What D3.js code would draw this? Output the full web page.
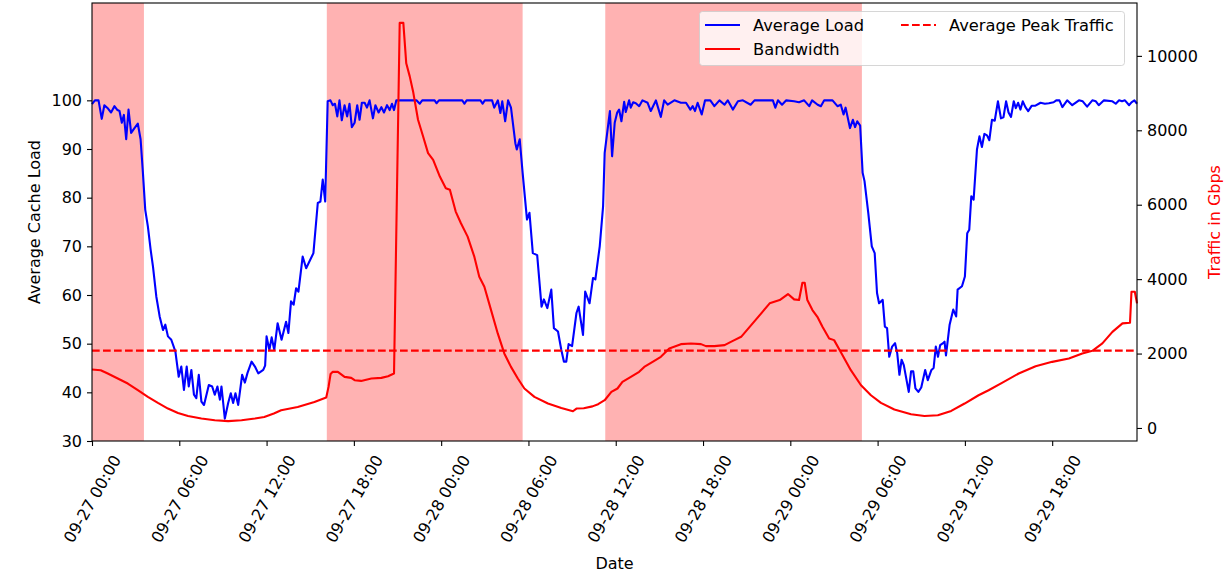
<!DOCTYPE html>
<html>
<head>
<meta charset="utf-8">
<script src="https://cdn.jsdelivr.net/npm/d3@7"></script>
<style>
  body { margin: 0; background: #fff; }
  svg { font-family: "DejaVu Sans", sans-serif; }
</style>
</head>
<body>
<div id="chart"></div>
<script>
// [hours since 09-27 00:00, value]
const loadData = [
  [0,99.2],[0.2,100],[0.45,100],[0.67,96.2],[0.85,99],[1.1,98.3],[1.31,97.5],[1.54,98.8],[1.75,98],[1.89,97.8],
  [2.05,95.4],[2.19,97],[2.35,92],[2.51,98.1],[2.69,93.3],[2.92,94.3],[3.15,95.2],[3.34,92],[3.5,85.1],[3.66,77.5],
  [3.84,74.1],[4.03,69.3],[4.19,65.9],[4.42,59.7],[4.65,55.6],[4.88,52.8],[5.04,53.9],[5.22,51.5],[5.45,50.8],[5.73,48.4],
  [5.96,43.2],[6.14,45.3],[6.32,40.5],[6.51,45.3],[6.65,41.2],[6.83,44.6],[7.01,39.5],[7.17,38.8],[7.34,43.6],[7.52,38.1],
  [7.7,37.4],[8.03,41.5],[8.26,41.2],[8.44,39.5],[8.62,41.2],[8.79,38.5],[8.9,41.2],[9.13,34.6],[9.36,37.8],[9.54,39.8],
  [9.7,37.8],[9.86,39.8],[10.05,37.4],[10.32,43.6],[10.51,42],[10.69,44],[10.97,46.3],[11.2,45.3],[11.43,43.9],[11.77,44.6],
  [11.9,45.5],[12.0,51.5],[12.19,48.7],[12.35,51.3],[12.53,48.7],[12.76,54.2],[13.03,50.8],[13.34,54.5],[13.5,52.2],[13.68,58.7],
  [13.86,58],[14.03,61.4],[14.19,60.7],[14.48,67.9],[14.72,65.5],[15.22,68.6],[15.52,78.9],[15.7,79.2],[15.86,83.7],[16.03,79.2],
  [16.2,99.8],[16.39,100],[16.55,99],[16.7,99.3],[16.86,96.7],[17.01,100],[17.17,95.9],[17.36,99],[17.54,96.7],[17.7,99.3],
  [17.86,94.5],[18.05,95.4],[18.23,99],[18.39,96],[18.55,99.5],[18.74,99.5],[18.9,98.5],[19.08,100],[19.31,96.3],[19.48,99],
  [19.7,97.5],[19.89,98.6],[20.07,97.5],[20.28,99],[20.46,98],[20.62,99.3],[20.76,98],[20.92,100],[22.3,100],[22.53,99.3],
  [22.7,100],[23.55,100],[23.68,99.4],[23.85,100],[25.45,100],[25.6,99.3],[25.75,100],[26.7,100],[26.85,99.3],[27.0,100],
  [27.5,100],[27.65,98.5],[27.9,100],[28.07,97.4],[28.2,99.8],[28.4,95.7],[28.6,100],[28.8,98.5],[29.1,91.2],[29.2,89.9],
  [29.4,92],[29.6,85.1],[29.9,75.5],[30.07,76.9],[30.3,68.6],[30.6,68.2],[30.9,57.6],[31.06,59.1],[31.3,57.3],[31.57,61.1],
  [31.75,53.2],[32.03,52.5],[32.26,48.7],[32.44,46.3],[32.6,46.3],[32.76,49.9],[33.0,49.5],[33.3,56.3],[33.45,57.6],[33.75,51.8],
  [33.9,60.7],[34.2,58.3],[34.44,63.5],[34.6,63.2],[34.9,70],[35.13,78.2],[35.24,89.2],[35.5,95.4],[35.6,97.8],[35.75,88.5],
  [35.93,95.4],[36.1,97.5],[36.23,98.1],[36.39,95.7],[36.58,99.7],[36.69,97.6],[36.92,100],[37.03,98.5],[37.2,99.6],[37.38,99.4],
  [37.61,98.8],[37.84,100],[38.19,99.5],[38.41,97.8],[38.76,100],[39.1,96.6],[39.33,100],[39.57,99.1],[40.03,100],[40.48,99.5],
  [40.83,99.5],[41.13,98.1],[41.29,98.8],[41.45,97.8],[41.63,99.5],[41.91,97.1],[42.14,100],[42.5,100],[42.78,98.8],[43.13,100],
  [43.48,99.1],[43.7,100],[44.05,98.1],[44.4,99.8],[44.74,100],[45.27,99.1],[45.54,100],[46.8,100],[46.97,98.5],[47.15,100],
  [47.43,99.1],[47.72,100],[48.26,99.8],[48.6,99.6],[48.95,100],[49.3,98.8],[49.5,100],[49.88,99.1],[50.1,98.8],[50.33,100],
  [50.9,100],[51.24,98.8],[51.47,99.1],[51.66,97.1],[51.8,98.5],[52.1,94.3],[52.3,96],[52.45,94.5],[52.6,95.7],[52.8,94.8],
  [52.97,85.1],[53.1,83.4],[53.36,76.8],[53.6,70],[53.8,68.6],[53.96,60.4],[54.1,58.3],[54.35,59],[54.5,53.5],[54.65,53.2],
  [54.8,47.3],[55.0,49.4],[55.2,50.1],[55.35,48],[55.5,43.6],[55.65,46.7],[55.8,45.6],[56.14,40.1],[56.3,44.3],[56.45,44.3],
  [56.6,40.8],[56.8,40.1],[57.0,41],[57.27,44.6],[57.45,42.5],[57.7,44.6],[57.85,45],[58.0,49.4],[58.15,47.3],[58.3,49.7],
  [58.45,50],[58.6,50.4],[58.7,47.6],[58.95,53.9],[59.2,57],[59.4,55.6],[59.5,61.1],[59.8,61.8],[60.0,63.8],[60.16,72.7],
  [60.3,73.4],[60.44,80.3],[60.6,79.6],[60.83,89.9],[61.0,92.6],[61.17,90.4],[61.34,93.1],[61.52,92.8],[61.68,91.8],[61.86,96],
  [62.05,95.8],[62.27,99.8],[62.48,96.3],[62.65,96.5],[62.83,99.8],[63.0,97.5],[63.17,96.6],[63.36,99.8],[63.5,98.4],[63.66,99.5],
  [63.82,98.1],[63.98,99.8],[64.16,98.6],[64.35,97.8],[64.6,98.9],[64.85,98.9],[65.2,99.5],[65.5,99.3],[65.77,99.4],[66.1,99.6],
  [66.28,100],[66.5,100],[66.7,98.6],[67.03,100],[67.38,99],[67.84,100],[68.1,99.8],[68.4,98.7],[68.76,100],[69.0,99.8],
  [69.2,99],[69.56,100],[70.14,99.8],[70.37,99.3],[70.6,100],[70.8,99.8],[71.0,100],[71.29,99],[71.45,99.6],[71.65,100],[71.83,99.3]
];

const bandwidthData = [
  [0,1572],[0.6,1553],[1.08,1464],[1.77,1330],[2.46,1195],[3.15,1015],[3.84,835],[4.53,673],[5.22,522],[5.91,404],
  [6.6,323],[7.52,253],[8.44,207],[9.36,185],[10.28,207],[11.2,253],[11.84,296],[12.5,390],[13.0,476],[14.14,565],
  [15.29,700],[16.1,818],[16.26,1104],[16.4,1450],[16.55,1508],[16.9,1508],[17.36,1373],[17.82,1346],[18.05,1284],[18.5,1265],
  [19.2,1330],[19.89,1346],[20.35,1392],[20.76,1464],[21.15,10886],[21.4,10886],[21.6,9800],[21.84,9449],[22.07,9045],[22.41,8283],
  [22.76,7833],[23.1,7387],[23.45,7206],[23.91,6757],[24.32,6445],[24.6,6400],[25.0,5815],[25.36,5502],[25.82,5142],[26.28,4603],
  [26.62,4065],[26.97,3796],[27.43,3168],[27.89,2541],[28.34,2003],[28.8,1642],[29.27,1330],[29.72,1061],[30.41,835],[31.34,657],
  [32.26,538],[33.06,450],[33.3,522],[33.8,530],[34.4,580],[34.79,640],[35.24,746],[35.7,969],[36.12,1061],[36.46,1238],
  [37.04,1373],[37.61,1508],[37.96,1642],[38.65,1804],[39.1,1911],[39.68,2137],[40.48,2253],[41.17,2272],[41.86,2253],[42.2,2199],
  [42.78,2199],[43.48,2226],[44.05,2342],[44.62,2450],[45.31,2765],[46.0,3080],[46.58,3349],[47.27,3438],[47.84,3599],[48.26,3456],
  [48.6,3438],[48.83,3903],[48.99,3903],[49.17,3438],[49.52,3168],[49.86,2988],[50.21,2719],[50.67,2406],[51.01,2361],[51.59,1957],
  [52.16,1553],[52.86,1149],[53.54,880],[54.23,673],[55.15,495],[56.3,369],[57.22,323],[58.14,342],[59.06,458],[59.98,657],
  [60.94,880],[61.63,1015],[62.55,1211],[63.7,1464],[64.86,1661],[66.0,1777],[67.15,1868],[68.07,2003],[68.76,2073],[69.45,2272],
  [70.14,2584],[70.83,2810],[71.35,2830],[71.45,3661],[71.68,3661],[71.83,3349]
];

const peakTraffic = 2080;
// shaded periods, hours
const busySpans = [[0, 3.57], [16.14, 29.6], [35.28, 52.92]];
const loadTicks = [30, 40, 50, 60, 70, 80, 90, 100];
const trafficTicks = [0, 2000, 4000, 6000, 8000, 10000];

const width = 1224, height = 576;
const margin = { top: 3, right: 87, bottom: 135, left: 92 };
const innerWidth = width - margin.left - margin.right;
const innerHeight = height - margin.top - margin.bottom;

const t0 = new Date(2023, 8, 27);
const toDate = h => new Date(t0.getTime() + h * 3600 * 1000);
const lastHour = d3.max(loadData, d => d[0]);

const svg = d3.select("#chart")
    .append("svg")
    .attr("width", width)
    .attr("height", height);

const g = svg.append("g")
    .attr("transform", `translate(${margin.left}, ${margin.top})`);

// Scales
const x = d3.scaleTime().domain([t0, toDate(lastHour)]).range([0, innerWidth]);
const yLoad = d3.scaleLinear().domain([30, 120]).range([innerHeight, 0]);
const [bMin, bMax] = d3.extent(bandwidthData, d => d[1]);
const pad = (bMax - bMin) * 0.05;
const yTraffic = d3.scaleLinear().domain([bMin - pad, bMax + pad]).range([innerHeight, 0]);

// Shaded spans
g.selectAll("rect.span")
    .data(busySpans)
    .join("rect")
    .attr("class", "span")
    .attr("x", d => x(toDate(d[0])))
    .attr("width", d => x(toDate(d[1])) - x(toDate(d[0])))
    .attr("y", 0)
    .attr("height", innerHeight)
    .attr("fill", "red")
    .attr("fill-opacity", 0.3);

// Load line
const loadLine = d3.line()
    .x(d => x(toDate(d[0])))
    .y(d => yLoad(d[1]));

g.append("path")
    .datum(loadData)
    .attr("d", loadLine)
    .attr("fill", "none")
    .attr("stroke", "blue")
    .attr("stroke-width", 2.1)
    .attr("stroke-linejoin", "round");

// Bandwidth line + average peak
const trafficLine = d3.line()
    .x(d => x(toDate(d[0])))
    .y(d => yTraffic(d[1]));

g.append("path")
    .datum(bandwidthData)
    .attr("d", trafficLine)
    .attr("fill", "none")
    .attr("stroke", "red")
    .attr("stroke-width", 2.1)
    .attr("stroke-linejoin", "round");

g.append("line")
    .attr("x1", 0)
    .attr("x2", innerWidth)
    .attr("y1", yTraffic(peakTraffic))
    .attr("y2", yTraffic(peakTraffic))
    .attr("stroke", "red")
    .attr("stroke-width", 2.1)
    .attr("stroke-dasharray", "7.7,3.3");

// Axes
const xAxis = d3.axisBottom(x)
    .ticks(d3.timeHour.every(6))
    .tickFormat(d3.timeFormat("%m-%d %H:%M"))
    .tickSize(5)
    .tickSizeOuter(0);

const xg = g.append("g")
    .attr("transform", `translate(0,${innerHeight})`)
    .call(xAxis);
xg.selectAll(".tick text")
    .attr("y", 0)
    .attr("dy", null)
    .attr("text-anchor", "middle")
    .attr("dominant-baseline", "central")
    .attr("transform", "translate(0,58) rotate(-60)");

const yg = g.append("g")
    .call(d3.axisLeft(yLoad).tickValues(loadTicks).tickSize(5).tickPadding(5).tickSizeOuter(0));

const y2g = g.append("g")
    .attr("transform", `translate(${innerWidth},0)`)
    .call(d3.axisRight(yTraffic).tickValues(trafficTicks).tickFormat(d3.format("d")).tickSize(5).tickPadding(5).tickSizeOuter(0));

[xg, yg, y2g].forEach(a => {
    a.select(".domain").remove();
    a.selectAll(".tick line").attr("stroke", "#000").attr("stroke-width", 1.1);
    a.selectAll(".tick text")
        .attr("fill", "#000")
        .style("font-size", "16px")
        .style("font-family", "DejaVu Sans, sans-serif");
});

// Frame
g.append("rect")
    .attr("width", innerWidth)
    .attr("height", innerHeight)
    .attr("fill", "none")
    .attr("stroke", "#000")
    .attr("stroke-width", 1.1);

// Axis labels
svg.append("text")
    .attr("transform", "translate(40,222) rotate(-90)")
    .attr("text-anchor", "middle")
    .style("font-size", "16px")
    .text("Average Cache Load");

svg.append("text")
    .attr("transform", "translate(1220,222) rotate(-90)")
    .attr("text-anchor", "middle")
    .attr("fill", "red")
    .style("font-size", "16px")
    .text("Traffic in Gbps");

svg.append("text")
    .attr("x", margin.left + innerWidth / 2)
    .attr("y", 569)
    .attr("text-anchor", "middle")
    .style("font-size", "16px")
    .text("Date");

// Legend
const legend = svg.append("g");
legend.append("rect")
    .attr("x", 699.5)
    .attr("y", 11.5)
    .attr("width", 425)
    .attr("height", 54)
    .attr("rx", 3)
    .attr("fill", "#fff")
    .attr("fill-opacity", 0.8)
    .attr("stroke", "#ccc")
    .attr("stroke-opacity", 0.8);

const legendItems = [
    { label: "Average Load", color: "blue", dash: null, lx: 705, ly: 25 },
    { label: "Bandwidth", color: "red", dash: null, lx: 705, ly: 49 },
    { label: "Average Peak Traffic", color: "red", dash: "7.7,3.3", lx: 901, ly: 25 }
];

legendItems.forEach(d => {
    legend.append("line")
        .attr("x1", d.lx)
        .attr("x2", d.lx + 35)
        .attr("y1", d.ly)
        .attr("y2", d.ly)
        .attr("stroke", d.color)
        .attr("stroke-width", 2.1)
        .attr("stroke-dasharray", d.dash);
    legend.append("text")
        .attr("x", d.lx + 48)
        .attr("y", d.ly)
        .attr("dominant-baseline", "central")
        .style("font-size", "16.3px")
        .text(d.label);
});
</script>
</body>
</html>
